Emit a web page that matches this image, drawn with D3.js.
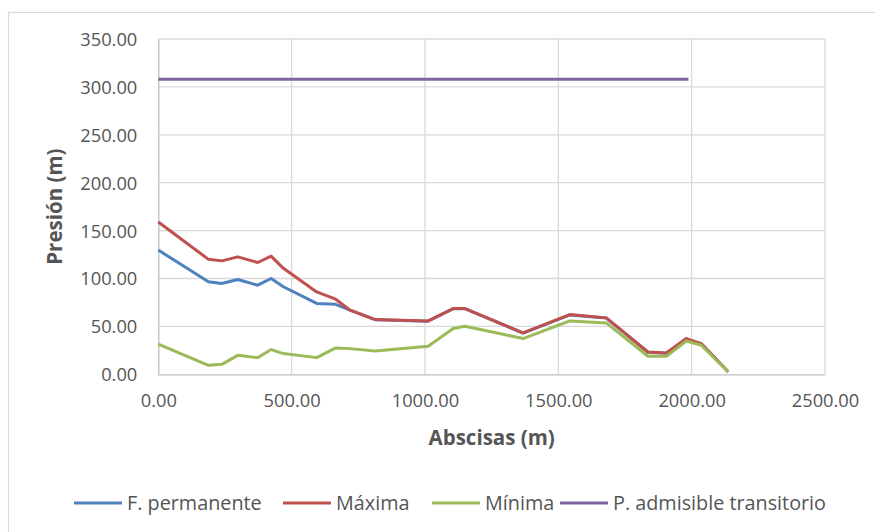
<!DOCTYPE html>
<html><head><meta charset="utf-8">
<script src="https://cdn.jsdelivr.net/npm/d3@7"></script>
<style>
body{margin:0;background:#fff;}
svg{display:block;font-family:"Open Sans",sans-serif;}
</style></head>
<body><svg id="c" width="875" height="532"></svg>
<script>
const abscisas = [0,188,238,298,373,423,469,594,665,719,813,1012,1106,1150,1368,1543,1680,1836,1905,1980,2036,2137];
const permanente = [129.7,96.5,94.7,99,93,100,91.4,74,73,67,57,55.5,68.5,68.5,43,62,58.7,23,22,37,31.8,2.6];
const maxima = [159,120,118.4,122.6,116.7,123.3,110.6,86,78.4,67,57.1,55.7,68.6,68.6,43.2,62.4,58.9,23.3,22.3,37.3,32,2.6];
const minima = [31.6,9.4,10.4,19.8,17.4,25.8,21.6,17.4,27.5,26.8,24.4,29.3,47.8,50.2,37.3,55.7,53.6,18.8,18.8,34.8,30.3,2.6];
const admisibleX = [0,1988];
const admisibleY = [308,308];
const seriesNames = ["F. permanente","Máxima","Mínima","P. admisible transitorio"];
const colors = ["#4f81bd","#c0504d","#9bbb59","#8064a2"];
const xTicks = [0,500,1000,1500,2000,2500];
const yTicks = [0,50,100,150,200,250,300,350];

const svg = d3.select("#c");
svg.append("rect").attr("x",8.5).attr("y",12.5).attr("width",900).attr("height",600)
  .attr("fill","#fff").attr("stroke","#d9d9d9").attr("stroke-width",1.2);

const L=158.3,R=825,T=39,B=374.3;
const x = d3.scaleLinear().domain([0,2500]).range([L,R]);
const y = d3.scaleLinear().domain([0,350]).range([B,T]);

// gridlines
svg.append("g").selectAll("line.h").data(yTicks.filter(d=>d>0)).join("line")
  .attr("x1",L).attr("x2",R).attr("y1",d=>y(d)).attr("y2",d=>y(d))
  .attr("stroke","#d9d9d9").attr("stroke-width",1.3);
svg.append("g").selectAll("line.v").data(xTicks.filter(d=>d>0)).join("line")
  .attr("y1",T).attr("y2",B).attr("x1",d=>x(d)).attr("x2",d=>x(d))
  .attr("stroke","#d9d9d9").attr("stroke-width",1.3);

// axes
const fmt = d3.format(".2f");
const xAxis = svg.append("g").attr("transform",`translate(0,${B})`)
  .call(d3.axisBottom(x).tickValues(xTicks).tickFormat(fmt).tickSize(0).tickPadding(20));
const yAxis = svg.append("g").attr("transform",`translate(${L},0)`)
  .call(d3.axisLeft(y).tickValues(yTicks).tickFormat(fmt).tickSize(0).tickPadding(21));
[xAxis,yAxis].forEach(a=>{
  a.select(".domain").attr("stroke","#bfbfbf").attr("stroke-width",1.3);
  a.selectAll("text").attr("fill","#555").style("font-size","18.3px").style("font-family","'Open Sans',sans-serif");
});
yAxis.selectAll("text").attr("dy","0.35em");
xAxis.selectAll("text").attr("dy","0.71em");

// titles
svg.append("text").attr("x",(L+R)/2).attr("y",445).attr("text-anchor","middle")
  .attr("fill","#555").style("font-size","20.5px").style("font-weight","bold").text("Abscisas (m)");
svg.append("text").attr("transform",`translate(62,${(T+B)/2}) rotate(-90)`).attr("text-anchor","middle")
  .attr("fill","#555").style("font-size","20.5px").style("font-weight","bold").text("Presión (m)");

// lines
const line = d3.line().x(d=>x(d[0])).y(d=>y(d[1]));
const sets = [
  abscisas.map((a,i)=>[a,permanente[i]]),
  abscisas.map((a,i)=>[a,maxima[i]]),
  abscisas.map((a,i)=>[a,minima[i]]),
  admisibleX.map((a,i)=>[a,admisibleY[i]])
];
svg.append("g").selectAll("path").data(sets).join("path")
  .attr("d",line).attr("fill","none").attr("stroke",(d,i)=>colors[i])
  .attr("stroke-width",3).attr("stroke-linejoin","round");

// legend
const lx = [74,283,432,560];
const lg = svg.append("g").selectAll("g").data(seriesNames).join("g")
  .attr("transform",(d,i)=>`translate(${lx[i]},503)`);
lg.append("line").attr("x1",0).attr("x2",48).attr("stroke",(d,i)=>colors[i]).attr("stroke-width",3);
lg.append("text").attr("x",53).attr("dy","0.35em").attr("fill","#555")
  .style("font-size","19.8px").text(d=>d);
</script></body></html>
